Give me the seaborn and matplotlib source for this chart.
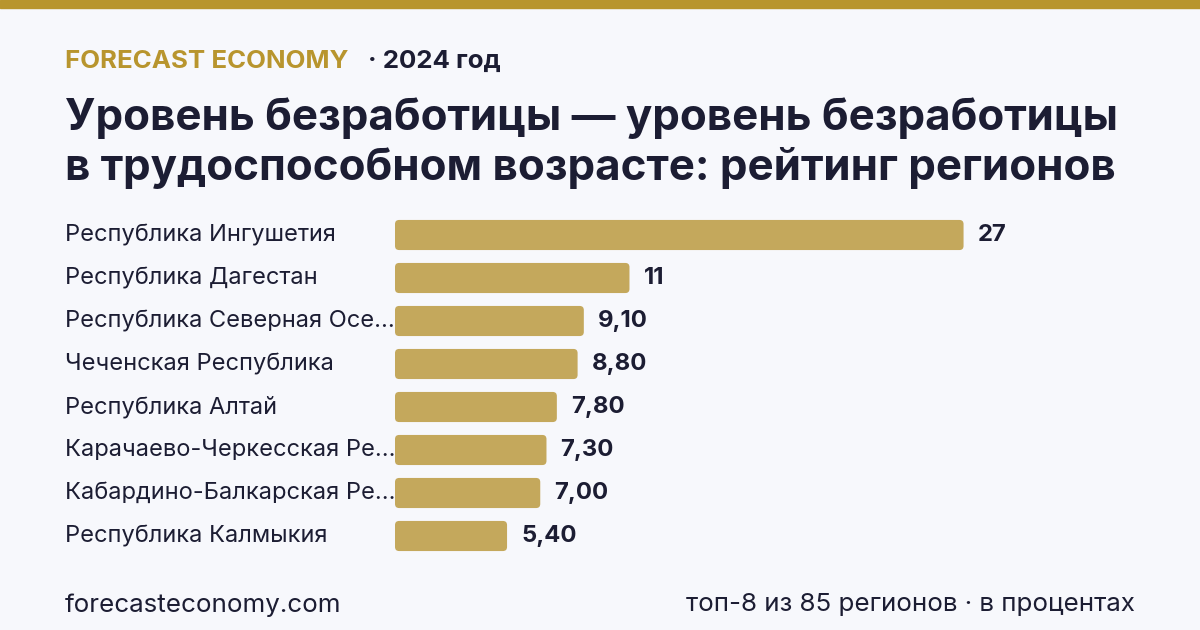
import matplotlib
matplotlib.use('Agg')
import matplotlib.pyplot as plt
import matplotlib.transforms as mtransforms
from matplotlib.patches import FancyBboxPatch
import seaborn as sns
import pandas as pd

# данные
regions = [
    'Республика Ингушетия',
    'Республика Дагестан',
    'Республика Северная Осе...',
    'Чеченская Республика',
    'Республика Алтай',
    'Карачаево-Черкесская Ре...',
    'Кабардино-Балкарская Ре...',
    'Республика Калмыкия',
]
values = [27.4, 11.3, 9.10, 8.80, 7.80, 7.30, 7.00, 5.40]

brand = 'FORECAST ECONOMY'
year_text = '· 2024 год'
title_lines = ['Уровень безработицы — уровень безработицы',
               'в трудоспособном возрасте: рейтинг регионов']
footer_left = 'forecasteconomy.com'
footer_right = 'топ-8 из 85 регионов · в процентах'

BG = '#f7f8fc'
GOLD = '#b8952e'
BAR = '#c4a85c'
DARK = '#1c1d33'

sns.set_style('white')
plt.rcParams['font.family'] = ['Inter', 'DejaVu Sans']

df = pd.DataFrame({'region': regions, 'value': values})

fig = plt.figure(figsize=(12, 6.3), dpi=100, facecolor=BG)
W, H = 1200, 630

def fx(px):
    return px / W

def fy(py):
    return 1 - py / H

# верхняя полоса
fig.patches.append(plt.Rectangle((0, fy(8)), 1, 8 / H, transform=fig.transFigure,
                                 color=GOLD, zorder=0))

ax = fig.add_axes([fx(395), fy(557.5), fx(740), 344 / H])
ax.set_facecolor(BG)
sns.barplot(data=df, x='value', y='region', color=BAR, width=0.7, ax=ax,
            saturation=1, orient='h')
ax.set_xlim(0, 740 / 20.75)
ax.set_ylim(7.5, -0.5)

# закруглённые бары
for p in list(ax.patches):
    x0, y0 = p.get_x(), p.get_y()
    w, h = p.get_width(), p.get_height()
    p.remove()
    rb = FancyBboxPatch((x0, y0), w, h,
                        boxstyle='round,pad=0,rounding_size=0.2',
                        mutation_aspect=0.48, facecolor=BAR, edgecolor='none')
    ax.add_patch(rb)

for i, v in enumerate(values):
    lab = f'{v:.0f}' if v >= 10 else f'{v:.2f}'.replace('.', ',')
    ax.text(v + 14 / 20.75, i, lab, va='center', ha='left', fontsize=17.2,
            fontweight='bold', color=DARK)

ax.set_xticks([])
ax.set_yticks([])
ax.set_xlabel('')
ax.set_ylabel('')
sns.despine(ax=ax, left=True, bottom=True)

tr = mtransforms.blended_transform_factory(fig.transFigure, ax.transData)
for i, r in enumerate(regions):
    ax.text(fx(65), i, r, transform=tr, va='center', ha='left', fontsize=17,
            color=DARK)

fig.text(fx(65), fy(61), brand, fontsize=18.6, fontweight='bold', color=GOLD,
         va='center', ha='left')
fig.text(fx(368), fy(61), year_text, fontsize=18.6, fontweight='bold', color=DARK,
         va='center', ha='left')
fig.text(fx(65), fy(118), title_lines[0], fontsize=31.6, fontweight='bold',
         color=DARK, va='center', ha='left')
fig.text(fx(65), fy(168), title_lines[1], fontsize=31.6, fontweight='bold',
         color=DARK, va='center', ha='left')

fig.text(fx(65), fy(605), footer_left, fontsize=18.7, color=DARK,
         va='center', ha='left')
fig.text(fx(1135), fy(605), footer_right, fontsize=18.7, color=DARK,
         va='center', ha='right')

fig.savefig('out.png', dpi=100, facecolor=BG)
